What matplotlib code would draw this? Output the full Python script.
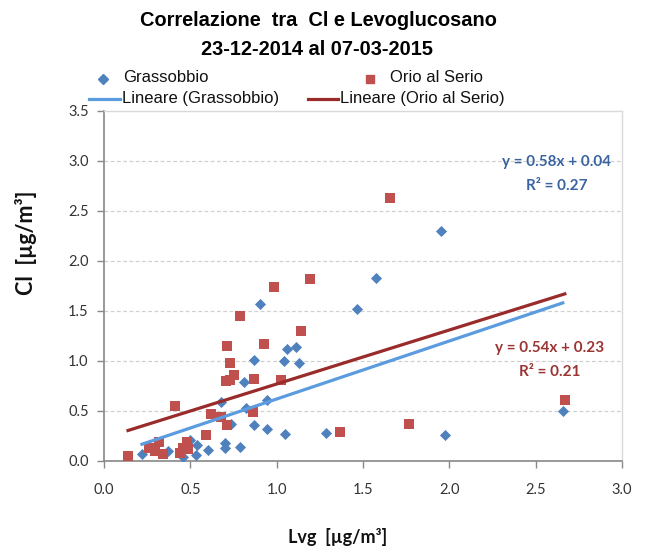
import matplotlib
matplotlib.use("Agg")
import matplotlib.pyplot as plt
import numpy as np
from matplotlib.lines import Line2D

# ---- data ----
grass_x = [0.22, 0.37, 0.455, 0.50, 0.53, 0.54, 0.60, 0.68, 0.70, 0.70, 0.736, 0.786,
           0.81, 0.825, 0.867, 0.867, 0.906, 0.946, 0.946, 1.04, 1.05, 1.058, 1.114,
           1.129, 1.287, 1.468, 1.574, 1.952, 1.975, 2.657]
grass_y = [0.07, 0.10, 0.04, 0.21, 0.06, 0.16, 0.11, 0.59, 0.18, 0.13, 0.37, 0.14,
           0.79, 0.53, 1.01, 0.36, 1.57, 0.61, 0.32, 1.00, 0.27, 1.12, 1.14,
           0.98, 0.28, 1.52, 1.83, 2.30, 0.26, 0.50]
orio_x = [0.139, 0.262, 0.295, 0.316, 0.339, 0.41, 0.44, 0.455, 0.48, 0.487, 0.59,
          0.618, 0.678, 0.715, 0.709, 0.728, 0.75, 0.728, 0.715, 0.786, 0.865, 0.871,
          0.925, 0.983, 1.023, 1.139, 1.195, 1.364, 1.655, 1.765, 2.669]
orio_y = [0.05, 0.13, 0.10, 0.19, 0.07, 0.55, 0.08, 0.13, 0.19, 0.12, 0.26,
          0.47, 0.44, 0.36, 0.80, 0.81, 0.86, 0.98, 1.15, 1.45, 0.49, 0.82,
          1.17, 1.74, 0.81, 1.30, 1.82, 0.29, 2.63, 0.37, 0.61]
# trend line coefficients (slope, intercept, R^2) as shown on the chart
grass_fit = [0.58, 0.04, 0.27]
orio_fit = [0.54, 0.23, 0.21]

x_ticks = [0.0, 0.5, 1.0, 1.5, 2.0, 2.5, 3.0]
y_ticks = [0.0, 0.5, 1.0, 1.5, 2.0, 2.5, 3.0, 3.5]

# ---- style ----
c_gm = "#4F81BD"
c_om = "#C0504D"
c_gl = "#5B9BDF"
c_ol = "#9A2B2B"
c_gt = "#3A64A0"
c_ot = "#9B3534"
tick_font = ["Lato", "DejaVu Sans"]
title_font = ["Liberation Sans", "DejaVu Sans"]
leg_font = ["Liberation Sans", "DejaVu Sans"]

W, H = 646, 549
fig = plt.figure(figsize=(W / 100, H / 100), dpi=100)
ax = fig.add_axes([104 / W, 1 - 461 / H, (622 - 104) / W, (461 - 111) / H])

ax.scatter(grass_x, grass_y, marker="D", s=32, color=c_gm, linewidths=0, zorder=3)
ax.scatter(orio_x, orio_y, marker="s", s=58, color=c_om, linewidths=0, zorder=3)

gx = np.array([min(grass_x), max(grass_x)])
ox = np.array([min(orio_x), max(orio_x)])
ax.plot(gx, grass_fit[0] * gx + grass_fit[1], color=c_gl, lw=2.3, zorder=4)
ax.plot(ox, orio_fit[0] * ox + orio_fit[1], color=c_ol, lw=2.3, zorder=4)

ax.set_xlim(0, 3.0)
ax.set_ylim(0, 3.5)
ax.set_xticks(x_ticks)
ax.set_yticks(y_ticks)
ax.set_xticklabels([f"{v:.1f}" for v in x_ticks], family=tick_font, fontsize=10.5, color="#333333")
ax.set_yticklabels([f"{v:.1f}" for v in y_ticks], family=tick_font, fontsize=10.5, color="#333333")
ax.tick_params(direction="out", length=5, width=1, color="#888888", pad=6)
ax.tick_params(axis="x", pad=11)
for yv in y_ticks[1:-1]:
    ax.axhline(yv, color="#D0D0D0", lw=0.9, ls=(0, (3, 2)), zorder=1)
for s in ["left", "bottom"]:
    ax.spines[s].set_color("#888888")
    ax.spines[s].set_linewidth(1.2)
for s in ["top", "right"]:
    ax.spines[s].set_color("#D9D9D9")
    ax.spines[s].set_linewidth(1.0)

# equations
eq_kw = dict(transform=None, ha="center", va="center", fontsize=11, fontweight="bold",
             family=tick_font)
ax.text(556, H - 162, f"y = {grass_fit[0]:.2f}x + {grass_fit[1]:.2f}", color=c_gt, **eq_kw)
ax.text(557, H - 186, f"R² = {grass_fit[2]:.2f}", color=c_gt, **eq_kw)
ax.text(550, H - 348, f"y = {orio_fit[0]:.2f}x + {orio_fit[1]:.2f}", color=c_ot, **eq_kw)
ax.text(550, H - 372, f"R² = {orio_fit[2]:.2f}", color=c_ot, **eq_kw)

# axis labels
fig.text(338 / W, 1 - 537 / H, "Lvg  [µg/m³]", ha="center", va="center",
         fontsize=13, fontweight="bold", family=tick_font, color="#111111")
fig.text(26 / W, 1 - 243 / H, "Cl  [µg/m³]", ha="center", va="center", rotation=90,
         fontsize=15.5, fontweight="bold", family=tick_font, color="#111111")

# title
fig.text(318 / W, 1 - 26 / H, "Correlazione  tra  Cl e Levoglucosano", ha="center",
         va="baseline", fontsize=14.4, fontweight="bold", family=title_font)
fig.text(317 / W, 1 - 55 / H, "23-12-2014 al 07-03-2015", ha="center",
         va="baseline", fontsize=14.4, fontweight="bold", family=title_font)

# legend (manual placement)
def leg_entry(x_marker, y, handle, label):
    if handle[0] == "m":
        fig.add_artist(Line2D([x_marker / W], [1 - y / H], marker=handle[1], color=handle[2],
                              markersize=handle[3], linestyle="none", transform=fig.transFigure))
        tx = x_marker + 20
    else:
        fig.add_artist(Line2D([handle[1] / W, handle[2] / W], [1 - y / H, 1 - y / H],
                              color=handle[3], lw=2.3, transform=fig.transFigure))
        tx = handle[2] + 2
    fig.text(tx / W, 1 - (y - 1) / H, label, ha="left", va="center", fontsize=12,
             family=leg_font, color="#111111")

leg_entry(103, 79, ("m", "D", c_gm, 5.5), "Grassobbio")
leg_entry(370, 79, ("m", "s", c_om, 6), "Orio al Serio")
leg_entry(0, 99, ("l", 89, 120, c_gl), "Lineare (Grassobbio)")
leg_entry(0, 99, ("l", 308, 338, c_ol), "Lineare (Orio al Serio)")

fig.savefig("out.png", dpi=100)
